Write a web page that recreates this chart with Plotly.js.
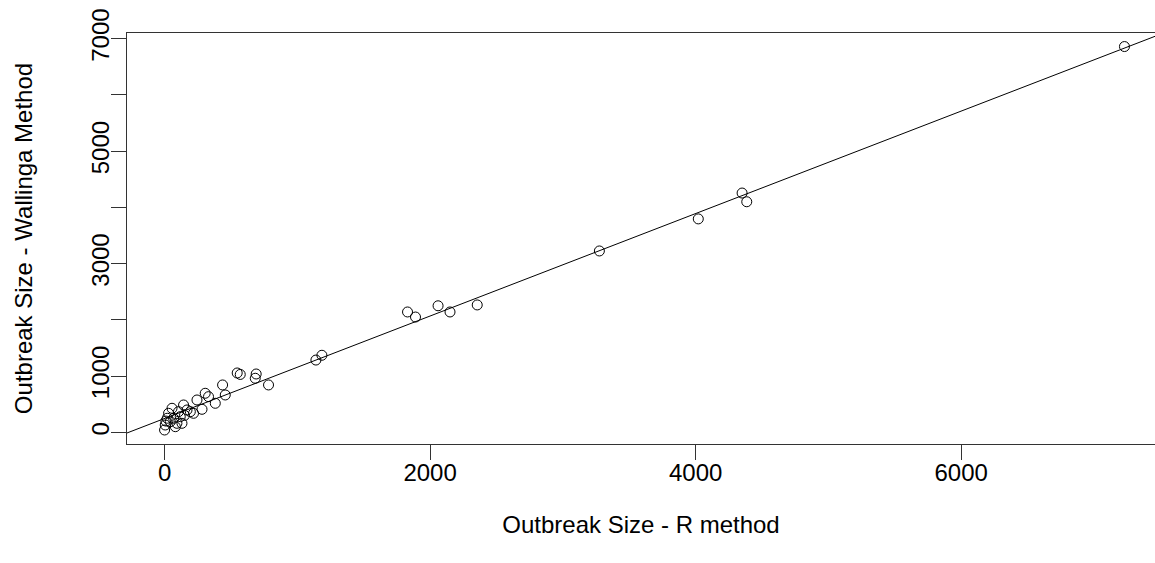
<!DOCTYPE html>
<html>
<head>
<meta charset="utf-8">
<script src="https://cdn.plot.ly/plotly-3.0.1.min.js"></script>
<style>html,body{margin:0;padding:0;background:#fff;overflow:hidden}#chart{width:1155px;height:563px}</style>
</head>
<body>
<div id="chart"></div>
<script>
// Outbreak sizes estimated by the two methods
var rMethod = [7230, 4350, 4385, 4020, 3275, 2355, 2150, 2060, 1890, 1830, 1185, 1140,
  547, 570, 690, 683, 783, 437, 457, 306, 331, 244, 282, 382, 194,
  0, 5, 30, 68, 105, 131, 169, 143, 93, 43, 218, 56, 118, 81, 150, 20, 10];
var wallingaMethod = [6860, 4255, 4100, 3795, 3225, 2265, 2140, 2250, 2050, 2140, 1370, 1285,
  1055, 1029, 1037, 961, 842, 842, 664, 694, 634, 575, 409, 516, 367,
  41, 130, 338, 249, 367, 160, 397, 486, 160, 189, 338, 427, 278, 100, 300, 250, 200];
// fitted line (abline)
var lineIntercept = 246;
var lineSlope = 0.911;
var xTicks = [0, 2000, 4000, 6000];
var xTickText = ['0', '2000', '4000', '6000'];
var yTicks = [0, 1000, 2000, 3000, 4000, 5000, 6000, 7000];
var yTickText = ['0', '1000', '', '3000', '', '5000', '', '7000'];

var xRange = [-283, 7460];
var yRange = [-208, 7101];

var font = {family: 'Liberation Sans, Arial, sans-serif', size: 24, color: '#000'};

var traces = [
  {
    x: [xRange[0], xRange[1]],
    y: [lineIntercept + lineSlope * xRange[0], lineIntercept + lineSlope * xRange[1]],
    mode: 'lines', type: 'scatter',
    line: {color: '#000', width: 1},
    hoverinfo: 'skip', showlegend: false, cliponaxis: true
  },
  {
    x: rMethod, y: wallingaMethod,
    mode: 'markers', type: 'scatter',
    marker: {symbol: 'circle-open', size: 10, color: '#000', line: {width: 1, color: '#000'}},
    showlegend: false, cliponaxis: true
  }
];

var layout = {
  width: 1155, height: 563,
  margin: {l: 127, r: 0, t: 33, b: 119, pad: 0},
  paper_bgcolor: '#fff', plot_bgcolor: '#fff',
  font: font,
  showlegend: false,
  xaxis: {
    range: xRange, autorange: false,
    tickvals: xTicks, ticktext: xTickText,
    ticks: 'outside', ticklen: 15, tickwidth: 1, tickcolor: '#333',
    ticklabelstandoff: -8,
    showgrid: false, zeroline: false,
    showline: true, linecolor: '#333', linewidth: 1, mirror: true,
    tickfont: font,
    title: {text: 'Outbreak Size - R method', font: font, standoff: 31}
  },
  yaxis: {
    range: yRange, autorange: false,
    tickvals: yTicks, ticktext: yTickText,
    ticks: 'outside', ticklen: 15, tickwidth: 1, tickcolor: '#333',
    ticklabelstandoff: -8,
    tickangle: -90,
    showgrid: false, zeroline: false,
    showline: true, linecolor: '#333', linewidth: 1, mirror: false,
    tickfont: font,
    title: {text: 'Outbreak Size - Wallinga Method', font: font, standoff: 48}
  }
};

Plotly.newPlot('chart', traces, layout, {displayModeBar: false, staticPlot: true});
</script>
</body>
</html>
